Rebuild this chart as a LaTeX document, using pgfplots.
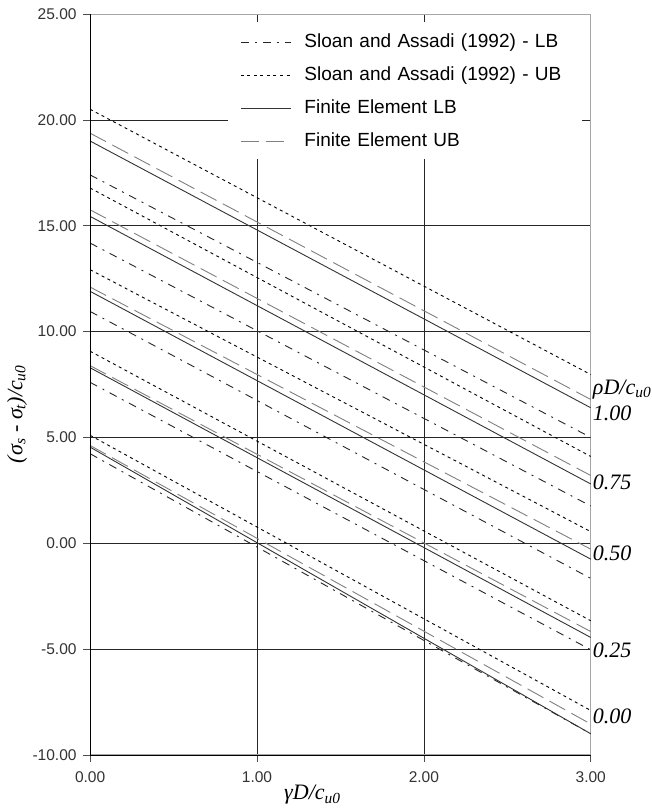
\documentclass[border=0pt]{standalone}
\usepackage{fontspec}
\setmainfont{Liberation Sans}
\newfontfamily\tnr{Liberation Serif}
\usepackage{pgfplots}
\pgfplotsset{compat=1.18}

\tikzset{
  salb/.style={black!85, line width=0.9pt, dash pattern=on 8pt off 6pt on 2pt off 6pt},
  saub/.style={black, line width=0.9pt, dash pattern=on 3pt off 3.5pt},
  felb/.style={black!80, line width=0.9pt},
  feub/.style={black!50, line width=0.9pt, dash pattern=on 18pt off 7pt},
  rlab/.style={anchor=west, inner xsep=2pt, font=\tnr\itshape\fontsize{22}{24}\selectfont},
}

\begin{document}
\begin{tikzpicture}
\begin{axis}[
  scale only axis, width=500pt, height=740pt,
  xmin=0, xmax=3, ymin=-10, ymax=25,
  xtick={0,1,2,3}, ytick={-10,-5,...,25},
  grid=major, grid style={black!85, line width=0.7pt},
  axis line style={black!35, line width=1pt},
  tick align=outside, tick pos=left, major tick length=7pt,
  tick style={black!70, line width=0.7pt},
  tick label style={font=\fontsize{15.5}{17}\selectfont, text=black!80},
  xticklabel style={yshift=-6pt},
  yticklabel style={xshift=-3pt},
  /pgf/number format/assume math mode=true,
  /pgf/number format/fixed, /pgf/number format/fixed zerofill,
  /pgf/number format/precision=2,
  clip=false,
  xlabel={\tnr\itshape γD/c\textsubscript{u0}},
  ylabel={\tnr\itshape (σ\textsubscript{s} - σ\textsubscript{t})/c\textsubscript{u0}},
  every axis x label/.style={at={(rel axis cs:0.444,0)}, yshift=-40pt, anchor=center, font=\fontsize{22}{24}\selectfont},
  every axis y label/.style={at={(rel axis cs:0,0.46)}, xshift=-73pt, rotate=90, anchor=center, font=\fontsize{22}{24}\selectfont},
  legend image code/.code={\draw[#1] (0pt,-1.5pt) -- (50pt,-1.5pt);},
  legend style={at={(rel axis cs:0.276,0.989)}, anchor=north west, fill=white, draw=none,
    font=\fontsize{19}{22}\selectfont, inner xsep=12pt, inner ysep=2pt,
    row sep=0pt, /tikz/every odd column/.append style={column sep=13pt},
    nodes={inner sep=0pt, minimum height=33pt, text width=265pt}},
]
\coordinate (ll) at (rel axis cs:0,0);
\coordinate (ur) at (rel axis cs:1,1);

\addlegendimage{salb}
\addlegendentry{Sloan and Assadi (1992) - LB}
\addlegendimage{saub}
\addlegendentry{Sloan and Assadi (1992) - UB}
\addlegendimage{felb}
\addlegendentry{Finite Element LB}
\addlegendimage{feub}
\addlegendentry{Finite Element UB}

% Sloan and Assadi (1992) - LB
\addplot[salb, forget plot] coordinates {(0,17.40) (3,5.00)};
\addplot[salb, forget plot] coordinates {(0,14.18) (3,1.76)};
\addplot[salb, forget plot] coordinates {(0,10.95) (3,-1.66)};
\addplot[salb, forget plot] coordinates {(0,7.60) (3,-5.03)};
\addplot[salb, forget plot] coordinates {(0,4.23) (3,-9.00)};

% Sloan and Assadi (1992) - UB
\addplot[saub, forget plot] coordinates {(0,20.50) (3,7.97)};
\addplot[saub, forget plot] coordinates {(0,16.78) (3,4.10)};
\addplot[saub, forget plot] coordinates {(0,12.92) (3,0.55)};
\addplot[saub, forget plot] coordinates {(0,9.07) (3,-3.66)};
\addplot[saub, forget plot] coordinates {(0,5.10) (3,-7.90)};

% Finite Element LB
\addplot[felb, forget plot] coordinates {(0,19.00) (3,6.40)};
\addplot[felb, forget plot] coordinates {(0,15.44) (3,2.80)};
\addplot[felb, forget plot] coordinates {(0,11.90) (3,-0.75)};
\addplot[felb, forget plot] coordinates {(0,8.29) (3,-4.45)};
\addplot[felb, forget plot] coordinates {(0,4.54) (3,-9.00)};

% Finite Element UB
\addplot[feub, forget plot] coordinates {(0,19.37) (3,6.79)};
\addplot[feub, forget plot] coordinates {(0,15.75) (3,3.20)};
\addplot[feub, forget plot] coordinates {(0,12.10) (3,-0.28)};
\addplot[feub, forget plot] coordinates {(0,8.39) (3,-4.17)};
\addplot[feub, forget plot] coordinates {(0,4.62) (3,-8.54)};

% black left and bottom axis lines
\draw[black, line width=0.8pt] (rel axis cs:0,1) -- (rel axis cs:0,0) -- (rel axis cs:1,0);

% group labels
\node[rlab] at (axis cs:3,7.25) {ρD/c\textsubscript{u0}};
\node[rlab] at (axis cs:3,6.16) {1.00};
\node[rlab] at (axis cs:3,2.90) {0.75};
\node[rlab] at (axis cs:3,-0.50) {0.50};
\node[rlab] at (axis cs:3,-5.08) {0.25};
\node[rlab] at (axis cs:3,-8.20) {0.00};
\end{axis}
\pgfresetboundingbox
\path ([shift={(-90pt,-55pt)}]ll) rectangle ([shift={(61pt,14pt)}]ur);
\end{tikzpicture}
\end{document}
